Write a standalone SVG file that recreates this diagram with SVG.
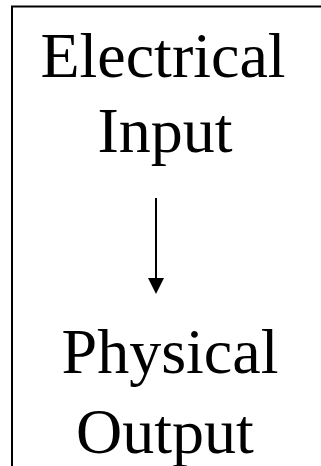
<svg xmlns="http://www.w3.org/2000/svg" width="321" height="466" viewBox="0 0 321 466">
<style>
.t{font-family:"Liberation Serif","Times New Roman",serif;font-size:64px;fill:#000;text-anchor:middle}
.frame{fill:none;stroke:#000;stroke-width:2}
</style>
<rect width="321" height="466" fill="#fff"/>
<g id="frame"><path class="frame" d="M12,467 V6.5 H322"/></g>
<g id="input"><text class="t" x="163" y="77">Electrical</text><text class="t" x="165" y="152">Input</text></g>
<g id="output"><text class="t" x="170" y="373">Physical</text><text class="t" x="165" y="453">Output</text></g>
<g id="connectors">
<line x1="156" y1="198" x2="156" y2="280" stroke="#000" stroke-width="2"/>
<polygon points="148,278 164,278 156,294" fill="#000"/>
</g>
</svg>
